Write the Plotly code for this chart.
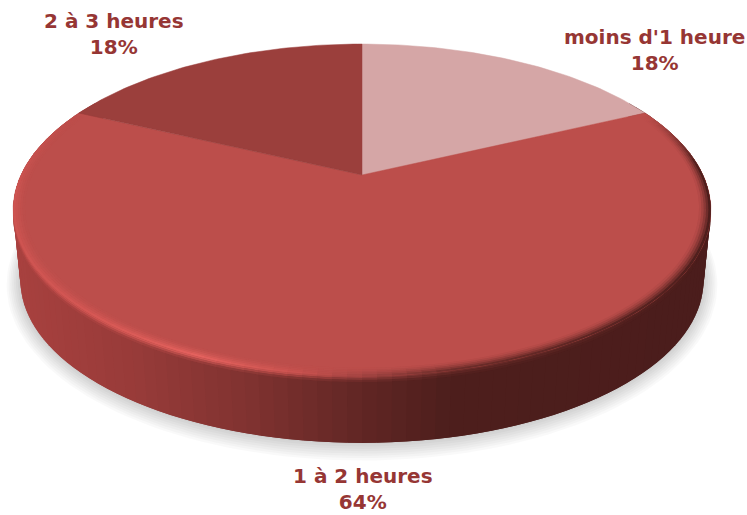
"""3D-looking pie of time spent, drawn as projected wedges on pixel-scaled axes."""
import numpy as np
import plotly.graph_objects as go

categories = ["moins d'1 heure", "1 à 2 heures", "2 à 3 heures"]
values = [18, 64, 18]
top_colors = ["#D5A6A6", "#BC4E4B", "#9B3F3C"]
label_pos = [(654, 50), (363, 489), (114, 34)]

W, H = 747, 515
TEXT = "#963634"

# perspective disc: apex pixel, half axes and foreshortening
CX, CY, A, B, K = 362, 175, 341, 158.6, 0.211
WALL_S, WALL_DY = 0.98, 72

# wall / bevel shades against pixel x
WALL_X = [13, 130, 250, 374, 450, 711]
WALL_RGB = [(168, 65, 63), (152, 59, 57), (127, 50, 48), (94, 37, 35), (77, 30, 28), (75, 29, 28)]
EDGE_X = [13, 100, 200, 300, 374, 450, 711]
EDGE_RGB = [(205, 84, 81), (214, 88, 85), (228, 98, 94), (201, 82, 79), (158, 66, 64), (110, 45, 42), (78, 31, 29)]


def project(theta, s=1.0, dy=0.0):
    u, v = np.sin(theta) * s, np.cos(theta) * s
    d = 1 + K * v
    return CX + A * u / d, CY - B * v / d + dy


def shade(x, xs, rgb):
    return np.array([np.interp(x, xs, [c[i] for c in rgb]) for i in range(3)])


def css(c):
    return "rgb(%d,%d,%d)" % tuple(np.round(c))


def hex_rgb(h):
    return np.array([int(h[i:i + 2], 16) for i in (1, 3, 5)], dtype=float)


def patch(fig, x, y, color):
    fig.add_trace(go.Scatter(
        x=list(x), y=list(y), mode="lines", fill="toself", fillcolor=color,
        line=dict(width=0), hoverinfo="skip", showlegend=False,
    ))


def band(fig, t0, t1, inner, outer, color):
    # one rim patch; inner/outer are (scale, drop) pairs
    span = np.linspace(t0, t1, 4)
    x0, y0 = project(span, *inner)
    x1, y1 = project(span, *outer)
    patch(fig, np.r_[x0, x1[::-1]], np.r_[y0, y1[::-1]], color)


fig = go.Figure()

# soft shadow under the disc
ring = np.linspace(0, 2 * np.pi, 181)
for grow in np.linspace(14, 1, 8):
    sx, sy = project(ring, WALL_S, WALL_DY)
    sx = CX + (sx - CX) * (1 + grow / 345)
    sy = sy.mean() + (sy - sy.mean()) * (1 + grow / 170) + grow * 0.2
    patch(fig, sx, sy, "rgba(0,0,0,0.022)")

# side wall, every patch overlapping the next one so no seams show
edges = np.radians(np.linspace(60, 300, 121))
step = edges[1] - edges[0]
for t0, t1 in zip(edges[:-1], edges[1:]):
    xm, _ = project(np.array([(t0 + t1) / 2]))
    c = shade(xm[0], WALL_X, WALL_RGB)
    band(fig, t0, t1 + step, (1.0, 0.0), (WALL_S, WALL_DY), css(c))

# highlight running down from the top edge, covered by the faces where it turns inward
segs = np.radians(np.linspace(66, 292, 114))
seg_step = segs[1] - segs[0]
drops = np.linspace(0, 6, 4)
for t0, t1 in zip(segs[:-1], segs[1:]):
    xm, _ = project(np.array([(t0 + t1) / 2]))
    edge = shade(xm[0], EDGE_X, EDGE_RGB)
    wall = shade(xm[0], WALL_X, WALL_RGB)
    for i in range(len(drops) - 1):
        mix = (i + 0.5) / (len(drops) - 1)
        band(fig, t0, t1 + seg_step, (1.0, drops[i]), (1.0, drops[i + 1]), css(edge + (wall - edge) * mix))

# top faces, clockwise from twelve o'clock
bounds = np.cumsum([0] + values) / sum(values) * 2 * np.pi
for cat, val, col, t0, t1 in zip(categories, values, top_colors, bounds[:-1], bounds[1:]):
    arc = np.linspace(t0, t1, max(int(val * 4), 20))
    ax, ay = project(arc)
    fig.add_trace(go.Scatter(
        x=np.r_[CX, ax, CX], y=np.r_[CY, ay, CY], mode="lines", fill="toself",
        fillcolor=col, line=dict(color=col, width=0.5), name=cat, showlegend=False,
        hovertemplate=f"{cat}: {val}%<extra></extra>",
    ))

# rounded rim: blend from the face colour into the edge shade
main = hex_rgb(top_colors[1])
scales = np.linspace(0.968, 1.0, 6)
for t0, t1 in zip(segs[:-1], segs[1:]):
    mid = np.degrees((t0 + t1) / 2)
    w = np.clip(min((mid - 66) / 20, (292 - mid) / 30), 0, 1)
    xm, _ = project(np.array([(t0 + t1) / 2]))
    edge = shade(xm[0], EDGE_X, EDGE_RGB)
    for i in range(len(scales) - 1):
        mix = w * ((i + 1) / (len(scales) - 1)) ** 1.6
        band(fig, t0, t1 + seg_step, (scales[i], 0.0), (scales[i + 1], 0.0), css(main + (edge - main) * mix))

for cat, val, (lx, ly) in zip(categories, values, label_pos):
    fig.add_annotation(
        x=lx, y=ly, text=f"<b>{cat}<br>{val}%</b>", showarrow=False, align="center",
        font=dict(family="DejaVu Sans, sans-serif", size=20, color=TEXT),
    )

fig.update_layout(
    width=W, height=H, margin=dict(l=0, r=0, t=0, b=0), autosize=False,
    paper_bgcolor="white", plot_bgcolor="white", showlegend=False,
    xaxis=dict(range=[0, W], visible=False, fixedrange=True),
    yaxis=dict(range=[H, 0], visible=False, fixedrange=True),
)
fig.write_html("out.html", config=dict(displayModeBar=False), post_script="document.body.style.margin='0';")
